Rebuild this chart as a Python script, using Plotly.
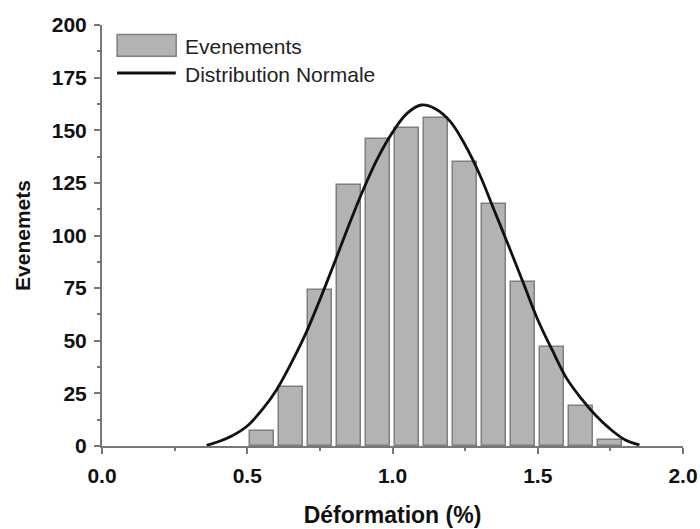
import plotly.graph_objects as go

# Histogram data
bin_centers = [0.55, 0.65, 0.75, 0.85, 0.95, 1.05, 1.15, 1.25, 1.35, 1.45, 1.55, 1.65, 1.75]
counts = [7, 28, 74, 124, 146, 151, 156, 135, 115, 78, 47, 19, 3]

# Normal distribution curve
curve_x = [0.36, 0.40, 0.45, 0.50, 0.55, 0.60, 0.65, 0.70, 0.75, 0.80, 0.85, 0.90, 0.95,
           1.00, 1.05, 1.10, 1.15, 1.20, 1.25, 1.30, 1.35, 1.40, 1.45, 1.50, 1.55, 1.60,
           1.65, 1.70, 1.75, 1.80, 1.85]
curve_y = [0.3, 2.0, 5.0, 9.5, 17.0, 26.5, 39.0, 53.0, 69.5, 87.0, 105.0, 122.0, 137.0,
           149.0, 158.0, 162.0, 160.0, 154.0, 143.0, 129.0, 112.0, 95.0, 77.5, 60.0, 45.5, 32.0,
           22.5, 14.5, 8.0, 3.0, 0.5]

x_ticks = [0.0, 0.5, 1.0, 1.5, 2.0]
x_tick_labels = ["0.0", "0.5", "1.0", "1.5", "2.0"]
y_ticks = [0, 25, 50, 75, 100, 125, 150, 175, 200]

legend_labels = ["Evenements", "Distribution Normale"]
x_title = "Déformation (%)"
y_title = "Evenemets"

FONT = "Arial, Liberation Sans, sans-serif"
AXIS_COLOR = "#777777"

fig = go.Figure()
fig.add_trace(go.Bar(
    x=bin_centers, y=counts, width=0.083,
    marker=dict(color="#b3b3b3", line=dict(color="#7f7f7f", width=1.5)),
    showlegend=False,
))
fig.add_trace(go.Scatter(
    x=curve_x, y=curve_y, mode="lines",
    line=dict(color="#111111", width=2.8, shape="spline", smoothing=1.0),
    showlegend=False,
))

# Custom legend (large symbols like the reference)
fig.add_shape(type="rect", xref="paper", yref="paper",
              x0=0.026, x1=0.1277, y0=0.9255, y1=0.9772,
              fillcolor="#b3b3b3", line=dict(color="#7f7f7f", width=1.5))
fig.add_shape(type="line", xref="paper", yref="paper",
              x0=0.026, x1=0.127, y0=0.886, y1=0.886,
              line=dict(color="#111111", width=2.8))
fig.add_annotation(x=0.1399, y=0.9493, xref="paper", yref="paper", text=legend_labels[0],
                   showarrow=False, xanchor="left", yanchor="middle",
                   font=dict(family=FONT, size=21, color="#222222"))
fig.add_annotation(x=0.1399, y=0.882, xref="paper", yref="paper", text=legend_labels[1],
                   showarrow=False, xanchor="left", yanchor="middle",
                   font=dict(family=FONT, size=21, color="#222222"))

fig.update_layout(
    width=700, height=529,
    margin=dict(l=102, r=17, t=25, b=83),
    plot_bgcolor="white", paper_bgcolor="white",
    font=dict(family=FONT, color="#111111"),
    bargap=0,
)
fig.update_xaxes(
    range=[0, 2], tickvals=x_ticks, ticktext=x_tick_labels,
    automargin=False,
    showgrid=False, zeroline=False,
    showline=True, linecolor=AXIS_COLOR, linewidth=2,
    ticks="outside", ticklen=6, tickwidth=1.5, tickcolor=AXIS_COLOR,
    ticklabelstandoff=4,
    minor=dict(ticks="outside", ticklen=3, tickwidth=1.5, tickcolor=AXIS_COLOR, dtick=0.25, showgrid=False),
    tickfont=dict(family=FONT, size=21, color="#111111", weight="bold"),
    title=dict(text=x_title, font=dict(family=FONT, size=23, color="#111111", weight="bold"), standoff=21),
)
fig.update_yaxes(
    range=[0, 200], tickvals=y_ticks,
    automargin=False,
    showgrid=False, zeroline=False,
    showline=True, linecolor=AXIS_COLOR, linewidth=2,
    ticks="outside", ticklen=6, tickwidth=1.5, tickcolor=AXIS_COLOR,
    ticklabelstandoff=3,
    minor=dict(ticks="outside", ticklen=3, tickwidth=1.5, tickcolor=AXIS_COLOR, dtick=12.5, showgrid=False),
    tickfont=dict(family=FONT, size=21, color="#111111", weight="bold"),
    title=dict(text=y_title, font=dict(family=FONT, size=21, color="#111111", weight="bold"), standoff=15),
)

fig.write_html("out.html", config={"displayModeBar": False},
               post_script="document.body.style.margin='0';")
